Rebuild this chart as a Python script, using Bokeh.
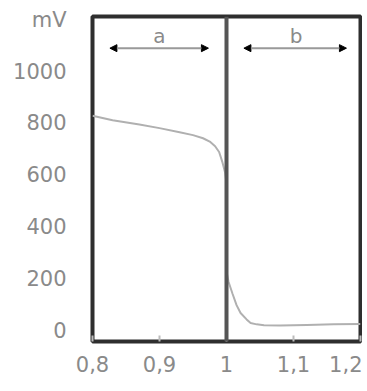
from bokeh.plotting import figure
from bokeh.models import Span, Arrow, NormalHead, FixedTicker, Label
from bokeh.embed import file_html
from bokeh.resources import INLINE

# Data
curve_x = [0.80, 0.83, 0.87, 0.90, 0.93, 0.95, 0.965, 0.975, 0.983, 0.989, 0.994, 0.998, 1.0, 1.0,
           1.003, 1.009, 1.015, 1.021, 1.03, 1.036, 1.045, 1.056, 1.08, 1.12, 1.16, 1.2]
curve_y = [830, 812, 796, 782, 766, 755, 743, 730, 712, 690, 650, 610, 570, 230,
           190, 144, 100, 70, 45, 31, 26, 23, 22, 24, 26, 27]

x_ticks = [0.8, 0.9, 1.0, 1.1, 1.2]
x_tick_labels = ["0,8", "0,9", "1", "1,1", "1,2"]
y_ticks = [0, 200, 400, 600, 800, 1000, 1200]
y_tick_labels = ["0", "200", "400", "600", "800", "1000", "mV"]

equivalence_x = 1.0
region_labels = ["a", "b"]
region_label_x = [0.9, 1.104]
region_label_y = 1135
arrow_y = 1090
arrow_starts = [0.826, 1.026]
arrow_ends = [0.973, 1.179]

FONT = "DejaVu Sans"
GREY = "#8a8a8a"

p = figure(width=362, height=383, x_range=(0.8, 1.2), y_range=(-40, 1212),
           output_backend="svg", toolbar_location=None,
           min_border_left=92, min_border_right=2, min_border_top=16, min_border_bottom=42)
p.grid.visible = False
p.outline_line_color = "#2e2e2e"
p.outline_line_width = 4
p.background_fill_color = "white"
p.border_fill_color = "white"

p.xaxis.ticker = FixedTicker(ticks=x_ticks)
p.xaxis.major_label_overrides = {t: l for t, l in zip(x_ticks, x_tick_labels)}
p.yaxis.ticker = FixedTicker(ticks=y_ticks)
p.yaxis.major_label_overrides = {t: l for t, l in zip(y_ticks, y_tick_labels)}

for ax in (p.xaxis, p.yaxis):
    ax.axis_line_color = None
    ax.minor_tick_line_color = None
    ax.major_label_text_font = FONT
    ax.major_label_text_font_size = "21px"
    ax.major_label_text_color = GREY

p.xaxis.major_tick_in = 6
p.xaxis.major_tick_out = 0
p.xaxis.major_tick_line_color = "#bbbbbb"
p.xaxis.major_tick_line_width = 2
p.xaxis.major_label_standoff = 14
p.yaxis.major_tick_line_color = None
p.yaxis.major_label_standoff = 20

p.line(curve_x, curve_y, line_color="#b0b0b0", line_width=2)

p.add_layout(Span(location=equivalence_x, dimension="height",
                  line_color="#555555", line_width=4))

for xs, xe in zip(arrow_starts, arrow_ends):
    p.add_layout(Arrow(x_start=xs, y_start=arrow_y, x_end=xe, y_end=arrow_y,
                       line_color="#999999", line_width=2,
                       start=NormalHead(size=7, fill_color="black", line_color="black"),
                       end=NormalHead(size=7, fill_color="black", line_color="black")))

for lab, lx in zip(region_labels, region_label_x):
    p.add_layout(Label(x=lx, y=region_label_y, text=lab, text_font=FONT,
                       text_font_size="20px", text_color=GREY,
                       text_align="center", text_baseline="middle"))

open("out.html", "w").write(file_html(p, INLINE))
